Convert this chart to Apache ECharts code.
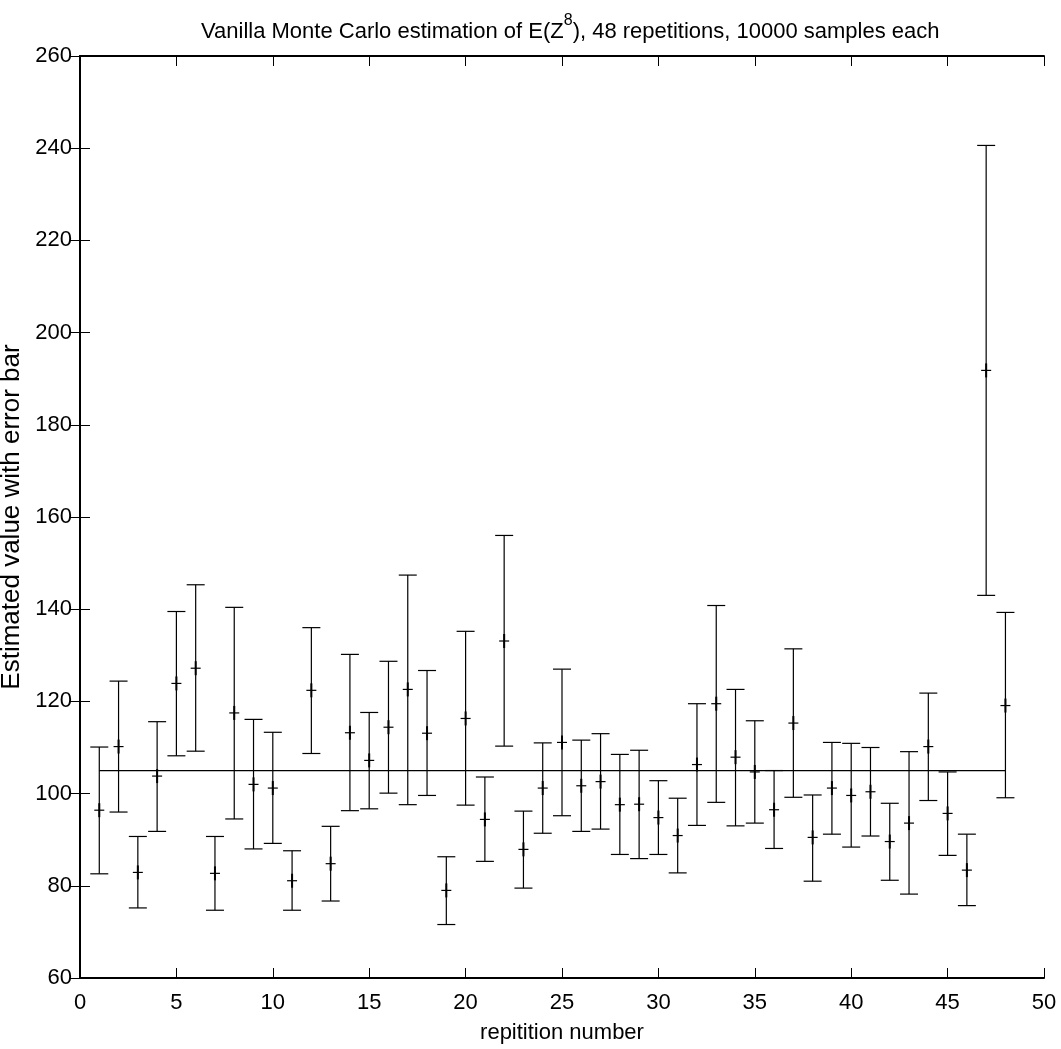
<!DOCTYPE html>
<html>
<head>
<meta charset="utf-8">
<script src="https://cdn.jsdelivr.net/npm/echarts@6/dist/echarts.min.js"></script>
<style>
  html, body { margin: 0; padding: 0; background: #fff; }
  #chart { width: 1061px; height: 1049px; }
</style>
</head>
<body>
<div id="chart"></div>
<script>
// Repetition index of each Monte Carlo run
const repetitions = [
  1, 2, 3, 4, 5, 6, 7, 8, 9, 10, 11, 12, 13, 14, 15, 16,
  17, 18, 19, 20, 21, 22, 23, 24, 25, 26, 27, 28, 29, 30, 31, 32,
  33, 34, 35, 36, 37, 38, 39, 40, 41, 42, 43, 44, 45, 46, 47, 48
];
// Estimated mean of Z^8 for each repetition
const estimates = [
  96.4, 110.2, 82.9, 103.8, 123.9, 127.2, 82.7, 117.5, 102.0, 101.2, 81.1, 122.4,
  84.8, 113.2, 107.2, 114.4, 122.6, 113.1, 79.0, 116.3, 94.4, 133.1, 87.9, 101.2,
  111.1, 101.7, 102.6, 97.6, 97.7, 94.8, 90.9, 106.3, 119.5, 107.9, 104.7, 96.5,
  115.3, 90.5, 101.2, 99.6, 100.4, 89.6, 93.6, 110.2, 95.7, 83.4, 191.8, 119.1
];
// Lower end of each error bar
const lowerBounds = [
  82.6, 96.0, 75.2, 91.8, 108.2, 109.2, 74.7, 94.5, 88.0, 89.2, 74.7, 108.7,
  76.7, 96.3, 96.7, 100.1, 97.6, 99.6, 71.6, 97.5, 85.3, 110.3, 79.5, 91.4,
  95.2, 91.8, 92.3, 86.8, 85.9, 86.8, 82.8, 93.1, 98.1, 93.0, 93.6, 88.1,
  99.2, 81.0, 91.2, 88.4, 90.8, 81.2, 78.2, 98.5, 86.6, 75.7, 143.0, 99.1
];
// Upper end of each error bar
const upperBounds = [
  110.1, 124.4, 90.7, 115.6, 139.5, 145.3, 90.7, 140.4, 116.1, 113.3, 87.6, 136.0,
  92.9, 130.2, 117.6, 128.7, 147.4, 126.7, 86.3, 135.2, 103.6, 156.0, 96.2, 111.0,
  127.0, 111.6, 113.0, 108.5, 109.4, 102.8, 99.0, 119.5, 140.8, 122.6, 115.8, 105.0,
  131.4, 99.7, 111.1, 110.9, 110.0, 97.9, 109.1, 121.8, 104.7, 91.2, 240.6, 139.3
];
// Exact value E(Z^8) = 105, drawn across the repetitions
const exactValue = 105;
const referenceSpan = [1, 48];

// Axis tick values
const xTicks = [0, 5, 10, 15, 20, 25, 30, 35, 40, 45, 50];
const yTicks = [60, 80, 100, 120, 140, 160, 180, 200, 220, 240, 260];

const FONT = '"Liberation Sans", Arial, Helvetica, sans-serif';

const barData = repetitions.map((r, i) => [r, lowerBounds[i], estimates[i], upperBounds[i]]);
const refLine = referenceSpan.map(x => [x, exactValue]);

const chart = echarts.init(document.getElementById('chart'), null, { renderer: 'canvas' });

const axisCommon = {
  axisLine: { show: true, lineStyle: { color: '#000', width: 2 } },
  axisTick: { show: true, inside: true, length: 10, lineStyle: { color: '#000', width: 1 } },
  splitLine: { show: false }
};

chart.setOption({
  backgroundColor: '#fff',
  animation: false,
  title: {
    text: '{a|Vanilla Monte Carlo estimation of E(Z}{s|8}{a|), 48 repetitions, 10000 samples each}',
    left: 196,
    top: 8,
    textStyle: {
      rich: {
        a: { fontFamily: FONT, fontSize: 22, fontWeight: 'normal', color: '#000', lineHeight: 30, verticalAlign: 'bottom' },
        s: { fontFamily: FONT, fontSize: 16, fontWeight: 'normal', color: '#000', lineHeight: 30, verticalAlign: 'top', padding: [0, 0, 8, 0] }
      }
    }
  },
  grid: { left: 80, right: 17, top: 56, bottom: 71, containLabel: false, outerBoundsMode: 'none' },
  xAxis: [
    Object.assign({
      type: 'value', min: xTicks[0], max: xTicks[xTicks.length - 1], interval: 5,
      position: 'bottom',
      name: 'repitition number', nameLocation: 'middle', nameGap: 44,
      nameTextStyle: { fontFamily: FONT, fontSize: 22, color: '#000' },
      axisLabel: { fontFamily: FONT, fontSize: 22, color: '#000', margin: 14 }
    }, axisCommon),
    Object.assign({
      type: 'value', min: xTicks[0], max: xTicks[xTicks.length - 1], interval: 5,
      position: 'top', axisLabel: { show: false }
    }, axisCommon)
  ],
  yAxis: [
    Object.assign({
      type: 'value', min: yTicks[0], max: yTicks[yTicks.length - 1], interval: 20,
      position: 'left',
      name: 'Estimated value with error bar', nameLocation: 'middle', nameGap: 50,
      nameTextStyle: { fontFamily: FONT, fontSize: 26, color: '#000' },
      axisLabel: { fontFamily: FONT, fontSize: 22, color: '#000', margin: 8 }
    }, axisCommon),
    Object.assign({
      type: 'value', min: yTicks[0], max: yTicks[yTicks.length - 1], interval: 20,
      position: 'right', axisLabel: { show: false }
    }, axisCommon)
  ],
  series: [
    {
      type: 'line',
      xAxisIndex: 0, yAxisIndex: 0,
      data: refLine,
      symbol: 'none',
      lineStyle: { color: '#000', width: 1.2 },
      z: 2
    },
    {
      type: 'custom',
      xAxisIndex: 0, yAxisIndex: 0,
      data: barData,
      encode: { x: 0, y: [1, 2, 3] },
      z: 3,
      renderItem: function (params, api) {
        const x = api.value(0);
        const lo = api.coord([x, api.value(1)]);
        const mid = api.coord([x, api.value(2)]);
        const hi = api.coord([x, api.value(3)]);
        const cap = 9;
        const plusH = 5;
        const plusV = 7;
        const style = { stroke: '#000', lineWidth: 1.2 };
        return {
          type: 'group',
          children: [
            { type: 'line', shape: { x1: hi[0], y1: hi[1], x2: lo[0], y2: lo[1] }, style: style },
            { type: 'line', shape: { x1: hi[0] - cap, y1: hi[1], x2: hi[0] + cap, y2: hi[1] }, style: style },
            { type: 'line', shape: { x1: lo[0] - cap, y1: lo[1], x2: lo[0] + cap, y2: lo[1] }, style: style },
            { type: 'line', shape: { x1: mid[0] - plusH, y1: mid[1], x2: mid[0] + plusH, y2: mid[1] }, style: style },
            { type: 'line', shape: { x1: mid[0], y1: mid[1] - plusV, x2: mid[0], y2: mid[1] + plusV }, style: { stroke: '#000', lineWidth: 2 } }
          ]
        };
      }
    }
  ]
});
</script>
</body>
</html>
